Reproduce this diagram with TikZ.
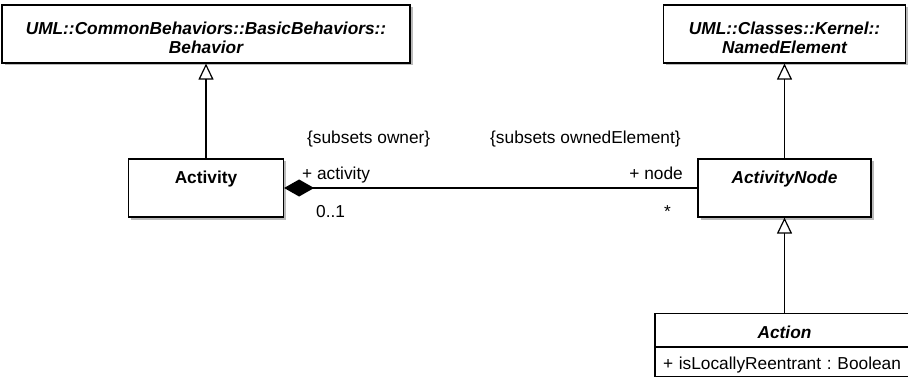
\documentclass[tikz,border=0pt]{standalone}
\usepackage{fontspec}
\setmainfont{Liberation Sans}
\usetikzlibrary{arrows.meta,shadows}

\newcommand{\umlfont}{\fontsize{17.3}{19}\selectfont}

\tikzset{
  classbox/.style={rectangle,draw,fill=white,line width=1.2pt,inner xsep=4pt,inner ysep=0pt,
    drop shadow={shadow xshift=2.5pt,shadow yshift=-2.5pt,fill=black!45,opacity=0.6}},
  pkgbox/.style={classbox,text height=30pt,text depth=28pt,font=\umlfont\bfseries\itshape},
  namebox/.style={classbox,text height=24pt,text depth=34pt,font=\umlfont\bfseries},
  attrbox/.style={classbox,text height=22pt,text depth=7pt,inner xsep=8pt,align=left,font=\umlfont},
  lbl/.style={inner sep=0pt,font=\umlfont},
  gen/.style={line width=1.2pt,-{Triangle[open,length=16pt,width=15pt,fill=white]}},
  comp/.style={line width=1.2pt,{Diamond[length=30pt,width=17pt]}-}
}

\begin{document}
\begin{tikzpicture}[x=1pt,y=-1pt]
\useasboundingbox (0,0) rectangle (908,377);
% classes
\node[pkgbox,minimum width=408pt] (behavior) at (206,34) {\begin{tabular}[t]{@{}c@{}}UML::CommonBehaviors::BasicBehaviors::\\Behavior\end{tabular}};
\node[pkgbox,minimum width=242pt] (namedelement) at (784.5,34) {\begin{tabular}[t]{@{}c@{}}UML::Classes::Kernel::\\NamedElement\end{tabular}};
\node[namebox,minimum width=155pt] (activity) at (206,188) {Activity};
\node[namebox,minimum width=173pt,font=\umlfont\bfseries\itshape] (activitynode) at (784.5,188) {ActivityNode};
\node[namebox,minimum width=259pt,text height=25pt,text depth=8pt,font=\umlfont\bfseries\itshape,anchor=north] (action) at (784.5,313) {Action};
\node[attrbox,text width=243pt,anchor=north] (actionattr) at (action.south) {+ isLocallyReentrant :\ Boolean};

% association ends
\node[lbl,anchor=base west] (ownerlbl) at (307,144) {\{subsets owner\}};
\node[lbl,anchor=base west] (ownedlbl) at (490,144) {\{subsets ownedElement\}};
\node[lbl,anchor=base west] (activityrole) at (302,179) {+ activity};
\node[lbl,anchor=base west] (activitymult) at (316,217) {0..1};
\node[lbl,anchor=base east] (noderole) at (683,179) {+ node};
\node[lbl,anchor=base east] (nodemult) at (671,217) {*};

\draw[gen] (activity) -- (behavior);
\draw[gen] (activitynode) -- (namedelement);
\draw[gen] (action) -- (activitynode);
\draw[comp] (activity) -- (activitynode);

\end{tikzpicture}
\end{document}
